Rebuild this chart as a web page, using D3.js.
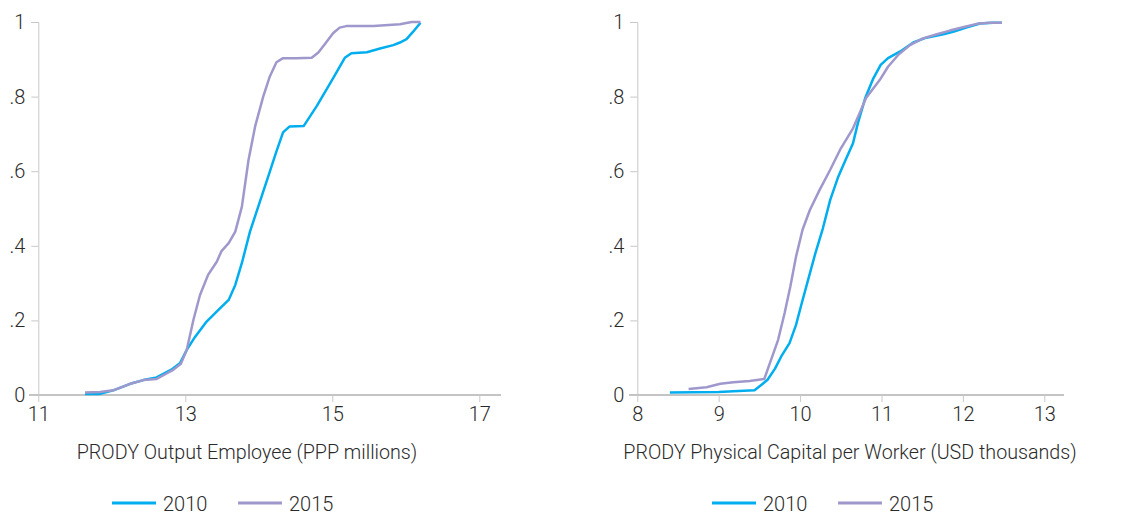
<!DOCTYPE html>
<html><head><meta charset="utf-8">
<script src="https://cdn.jsdelivr.net/npm/d3@7"></script>
<style>
html,body{margin:0;padding:0;background:#fff;}
svg text{font-family:Roboto,"Liberation Sans",sans-serif;font-weight:300;fill:#2a2a2a;}
</style></head>
<body><svg id="c" width="1127" height="518"></svg>
<script>
// Left panel: PRODY Output Employee (PPP millions)
const leftX2010 = [11.635,11.84,12.02,12.25,12.43,12.61,12.81,12.93,13.02,13.13,13.29,13.43,13.59,13.68,13.77,13.88,14.06,14.15,14.24,14.33,14.42,14.61,14.79,15.01,15.17,15.26,15.47,15.65,15.83,15.92,16.01,16.10,16.20];
const leftY2010 = [0.003,0.003,0.0125,0.03,0.04,0.047,0.068,0.086,0.121,0.155,0.197,0.224,0.255,0.295,0.354,0.438,0.545,0.599,0.653,0.704,0.72,0.721,0.775,0.849,0.904,0.916,0.919,0.929,0.938,0.945,0.954,0.974,0.998];
const leftX2015 = [11.635,11.84,12.02,12.25,12.43,12.61,12.74,12.84,12.94,13.02,13.11,13.20,13.31,13.43,13.49,13.59,13.68,13.77,13.86,13.95,14.06,14.15,14.24,14.33,14.51,14.72,14.81,14.90,15.01,15.10,15.19,15.56,15.92,16.08,16.20];
const leftY2015 = [0.007,0.008,0.0125,0.03,0.04,0.043,0.057,0.068,0.084,0.121,0.201,0.268,0.322,0.358,0.385,0.407,0.438,0.505,0.63,0.72,0.80,0.854,0.892,0.903,0.903,0.904,0.918,0.941,0.97,0.985,0.989,0.989,0.994,1.0,1.0];
// Right panel: PRODY Physical Capital per Worker (USD thousands)
const rightX2010 = [8.40,9.0,9.18,9.44,9.53,9.60,9.69,9.77,9.87,9.95,10.02,10.11,10.19,10.28,10.37,10.47,10.55,10.65,10.71,10.80,10.90,10.99,11.08,11.23,11.39,11.55,11.76,11.88,12.05,12.21,12.37,12.48];
const rightY2010 = [0.007,0.008,0.01,0.0125,0.028,0.041,0.07,0.104,0.139,0.188,0.246,0.318,0.382,0.447,0.523,0.586,0.626,0.675,0.729,0.796,0.849,0.885,0.903,0.921,0.945,0.958,0.967,0.974,0.986,0.996,0.998,0.998];
const rightX2015 = [8.63,8.85,9.02,9.18,9.38,9.56,9.63,9.73,9.81,9.88,9.95,10.03,10.12,10.24,10.37,10.49,10.65,10.74,10.81,10.98,11.08,11.21,11.35,11.51,11.68,11.84,12.00,12.17,12.33,12.48];
const rightY2015 = [0.016,0.021,0.030,0.034,0.0375,0.043,0.086,0.148,0.22,0.291,0.371,0.443,0.496,0.55,0.604,0.657,0.715,0.76,0.796,0.845,0.88,0.913,0.938,0.956,0.967,0.977,0.986,0.995,0.998,0.998];

const seriesNames = ["2010","2015"];
const seriesColors = ["#00aeef","#9f98cc"];
const yTicks = [0,0.2,0.4,0.6,0.8,1];
const yTickLabels = ["0",".2",".4",".6",".8","1"];
const leftXTicks = [11,13,15,17];
const rightXTicks = [8,9,10,11,12,13];
const leftTitle = "PRODY Output Employee (PPP millions)";
const rightTitle = "PRODY Physical Capital per Worker (USD thousands)";

const svg = d3.select("#c");
const FS = 20;

function panel(cfg){
  const g = svg.append("g");
  const x = d3.scaleLinear().domain(cfg.xDomain).range(cfg.xRange);
  const y = d3.scaleLinear().domain([0,1]).range([395,22]);
  // y axis
  const ya = g.append("g").attr("transform",`translate(${cfg.xRange[0]},0)`)
    .call(d3.axisLeft(y).tickValues(yTicks).tickFormat((d,i)=>yTickLabels[i]).tickSize(7).tickPadding(6));
  ya.select(".domain").attr("stroke","#c8c8c8").attr("stroke-width",1);
  ya.selectAll(".tick line").attr("stroke","#c8c8c8");
  ya.selectAll(".tick text").attr("font-size",FS).style("font-family","Roboto,sans-serif").style("font-weight",300).attr("fill","#2a2a2a");
  // x axis
  const xa = g.append("g").attr("transform","translate(0,395)")
    .call(d3.axisBottom(x).tickValues(cfg.xTicks).tickFormat(d3.format("d")).tickSize(7).tickPadding(5).tickSizeOuter(0));
  xa.select(".domain").remove();
  xa.insert("line",":first-child").attr("x1",cfg.axisExtent[0]).attr("x2",cfg.axisExtent[1]).attr("y1",0).attr("y2",0)
    .attr("stroke","#c4c4c4").attr("stroke-width",2.2);
  xa.selectAll(".tick line").attr("stroke","#c8c8c8");
  xa.selectAll(".tick text").attr("font-size",FS).style("font-family","Roboto,sans-serif").style("font-weight",300).attr("fill","#2a2a2a");
  // title
  g.append("text").attr("x",cfg.titleX).attr("y",459).attr("text-anchor","middle").attr("font-size",19.7).text(cfg.title);
  // lines
  const line = d3.line().x(d=>x(d[0])).y(d=>y(d[1]));
  cfg.series.forEach((s,i)=>{
    const pts = s[0].map((v,j)=>[v,s[1][j]]);
    g.append("path").datum(pts).attr("d",line).attr("fill","none")
      .attr("stroke",seriesColors[i]).attr("stroke-width",2.5).attr("stroke-linejoin","round");
  });
  // legend
  const lg = g.append("g");
  seriesNames.forEach((n,i)=>{
    const lx = cfg.legendX[i];
    lg.append("line").attr("x1",lx).attr("x2",lx+44).attr("y1",503).attr("y2",503)
      .attr("stroke",seriesColors[i]).attr("stroke-width",3);
    lg.append("text").attr("x",lx+51).attr("y",511).attr("font-size",FS).text(n);
  });
}

panel({xDomain:[11,17], xRange:[38.3,479.3], axisExtent:[29,501], xTicks:leftXTicks, title:leftTitle, titleX:247,
  series:[[leftX2010,leftY2010],[leftX2015,leftY2015]], legendX:[112,238]});
panel({xDomain:[8,13], xRange:[637.3,1044.3], axisExtent:[629,1064], xTicks:rightXTicks, title:rightTitle, titleX:850,
  series:[[rightX2010,rightY2010],[rightX2015,rightY2015]], legendX:[712,838]});
</script></body></html>
